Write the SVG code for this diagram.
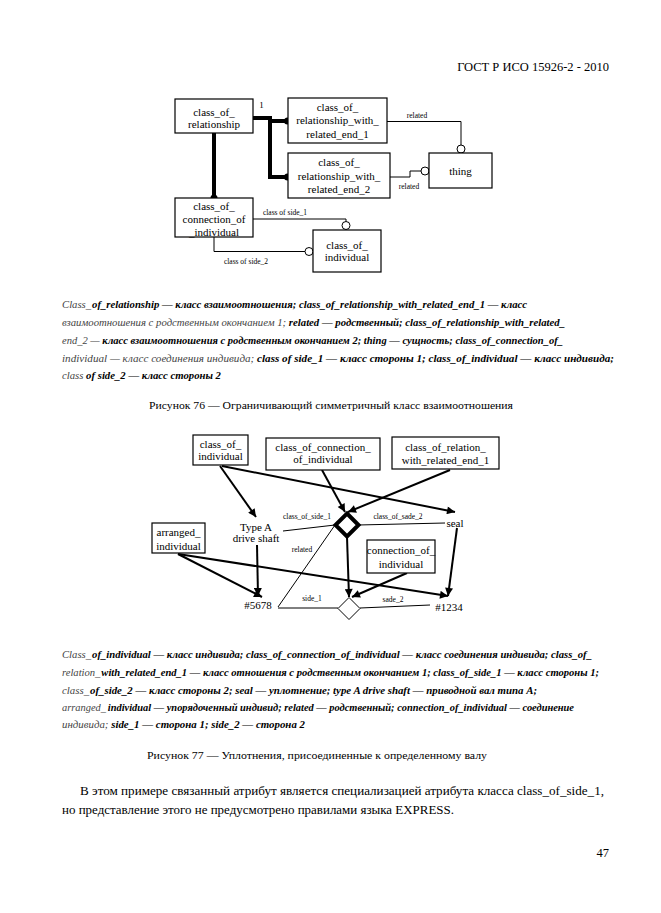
<svg xmlns="http://www.w3.org/2000/svg" width="661" height="913" viewBox="0 0 661 913">
<style>
text{font-family:"Liberation Serif","Times New Roman",serif;fill:#000}
.bx{fill:#fff;stroke:#000;stroke-width:1.2}
.t{font-size:11px;text-anchor:middle}
.lb{font-size:7.5px;text-anchor:middle}
.thin{fill:none;stroke:#000;stroke-width:1}
.thick{fill:none;stroke:#000;stroke-width:4}
.arr{fill:none;stroke:#000;stroke-width:2;marker-end:url(#ah)}
.oc{fill:#fff;stroke:#000;stroke-width:1}
.cap{font-size:11px}
.i{font-style:italic;fill:#444}
.b{font-style:italic;font-weight:bold}
</style>
<defs>
<marker id="ah" viewBox="0 0 10 10" refX="10" refY="5" markerWidth="9" markerHeight="8" markerUnits="userSpaceOnUse" orient="auto"><path d="M0,0 L10,5 L0,10 z" fill="#000"/></marker>
</defs>
<rect width="661" height="913" fill="#fff"/>
<text x="609" y="71" font-size="12.5" text-anchor="end">ГОСТ Р ИСО 15926-2 - 2010</text>

<!-- Figure 76 -->
<g id="connectors76">
<path class="thick" d="M253,118 H270 V177 H287 M270,121 H287"/>
<path class="thick" d="M214,133 V198"/>
<circle cx="287.5" cy="121" r="3.5"/>
<circle cx="287.5" cy="177" r="3.5"/>
<circle cx="214" cy="198" r="3.5"/>
<path class="thin" d="M387,121.5 H461 V145"/>
<circle class="oc" cx="461" cy="149" r="4"/>
<path class="thin" d="M390,177 H410 V171 H421"/>
<circle class="oc" cx="425" cy="171" r="4"/>
<path class="thin" d="M253,219 H346 V221.5"/>
<circle class="oc" cx="346" cy="225.5" r="4"/>
<path class="thin" d="M214,237 V251.5 H305"/>
<circle class="oc" cx="309" cy="251.5" r="4"/>
<text class="lb" x="417" y="118">related</text>
<text class="lb" x="409" y="189">related</text>
<text class="lb" x="285" y="215">class of side_1</text>
<text class="lb" x="246" y="264">class of side_2</text>
<text x="261.5" y="108" font-size="9" text-anchor="middle">1</text>
</g>
<g id="n_class_of_relationship">
<rect class="bx" x="175" y="99" width="78" height="34"/>
<text class="t" x="214" y="116">class_of_</text>
<text class="t" x="214" y="128">relationship</text>
</g>
<g id="n_rel_end_1">
<rect class="bx" x="288" y="98" width="99" height="45"/>
<text class="t" x="337.5" y="110.5">class_of_</text>
<text class="t" x="337.5" y="124">relationship_with_</text>
<text class="t" x="337.5" y="138">related_end_1</text>
</g>
<g id="n_rel_end_2">
<rect class="bx" x="288" y="153" width="102" height="45"/>
<text class="t" x="339" y="166">class_of_</text>
<text class="t" x="339" y="180">relationship_with_</text>
<text class="t" x="339" y="193">related_end_2</text>
</g>
<g id="n_thing">
<rect class="bx" x="429" y="153" width="63" height="35"/>
<text class="t" x="460.5" y="175">thing</text>
</g>
<g id="n_class_of_connection_of_individual">
<rect class="bx" x="175" y="198" width="78" height="39"/>
<text class="t" x="214" y="210">class_of_</text>
<text class="t" x="214" y="223">connection_of</text>
<text class="t" x="214" y="236">_individual</text>
</g>
<g id="n_class_of_individual">
<rect class="bx" x="313" y="230" width="68" height="42"/>
<text class="t" x="347" y="248.5">class_of_</text>
<text class="t" x="347" y="260.5">individual</text>
</g>

<g id="legend76" class="cap">
<text x="62" y="308" textLength="465" lengthAdjust="spacingAndGlyphs"><tspan class="i">Class_</tspan><tspan class="b" dx="1">of_relationship — класс взаимоотношения; class_of_relationship_with_related_end_1 — класс</tspan></text>
<text x="62" y="326" textLength="503" lengthAdjust="spacingAndGlyphs"><tspan class="i">взаимоотношения с родственным окончанием 1; </tspan><tspan class="b">related — родственный; class_of_relationship_with_related_</tspan></text>
<text x="62" y="344" textLength="501" lengthAdjust="spacingAndGlyphs"><tspan class="i">end_2 — </tspan><tspan class="b">класс взаимоотношения с родственным окончанием 2; thing — сущность; class_of_connection_of_</tspan></text>
<text x="62" y="362" textLength="552" lengthAdjust="spacingAndGlyphs"><tspan class="i">individual — класс соединения индивида; </tspan><tspan class="b">class of side_1 — класс стороны 1; class_of_individual — класс индивида;</tspan></text>
<text x="62" y="379" textLength="159" lengthAdjust="spacingAndGlyphs"><tspan class="i">class </tspan><tspan class="b">of side_2 — класс стороны 2</tspan></text>
</g>
<text x="331" y="409" font-size="10.5" text-anchor="middle" textLength="364" lengthAdjust="spacingAndGlyphs">Рисунок 76 — Ограничивающий симметричный класс взаимоотношения</text>

<!-- Figure 77 -->
<g id="connectors77">
<line class="arr" x1="220" y1="466" x2="256" y2="517"/>
<line class="arr" x1="222" y1="466" x2="455" y2="512"/>
<line class="arr" x1="322" y1="470" x2="345" y2="512"/>
<line class="arr" x1="450" y1="470" x2="348" y2="512"/>
<line class="arr" x1="347" y1="537" x2="349" y2="597"/>
<line class="arr" x1="407" y1="573" x2="352" y2="597"/>
<line class="arr" x1="178" y1="554" x2="262" y2="597"/>
<line class="arr" x1="178" y1="554" x2="448" y2="596"/>
<line class="arr" x1="257" y1="545" x2="258" y2="596"/>
<line class="arr" x1="457" y1="528" x2="448" y2="596"/>
<path class="thin" d="M283,531 L335,525"/>
<path class="thin" d="M358,525 L445,523"/>
<path class="thin" d="M335,525 L278,607"/>
<path class="thin" d="M278,608 H338"/>
<path class="thin" d="M360,608 L430,605"/>
<text class="lb" x="307" y="519">class_of_side_1</text>
<text class="lb" x="398" y="519">class_of_sade_2</text>
<text class="lb" x="302" y="552">related</text>
<text class="lb" x="312" y="601">side_1</text>
<text class="lb" x="393" y="602">sade_2</text>
</g>
<g id="d_thick">
<path d="M347,513.5 L358.5,525 L347,536.5 L335.5,525 Z" fill="#fff" stroke="#000" stroke-width="4" stroke-linejoin="miter"/>
</g>
<g id="d_thin">
<path d="M349,597.5 L360,608.5 L349,619.5 L338,608.5 Z" fill="#fff" stroke="#000" stroke-width="1"/>
</g>
<g id="m_class_of_individual">
<rect class="bx" x="193" y="435" width="55" height="30"/>
<text class="t" x="220.5" y="448">class_of_</text>
<text class="t" x="220.5" y="460">individual</text>
</g>
<g id="m_class_of_connection_of_individual">
<rect class="bx" x="266" y="438" width="114" height="32"/>
<text class="t" x="323" y="451">class_of_connection_</text>
<text class="t" x="323" y="463">of_individual</text>
</g>
<g id="m_class_of_relation">
<rect class="bx" x="392" y="437" width="107" height="32"/>
<text class="t" x="445.5" y="450.5">class_of_relation_</text>
<text class="t" x="445.5" y="464">with_related_end_1</text>
</g>
<g id="m_arranged_individual">
<rect class="bx" x="152" y="523" width="53" height="30"/>
<text class="t" x="178.5" y="535.5">arranged_</text>
<text class="t" x="178.5" y="549.5">individual</text>
</g>
<g id="m_connection_of_individual">
<rect class="bx" x="367" y="540" width="68" height="33"/>
<text class="t" x="401" y="553.5">connection_of_</text>
<text class="t" x="401" y="567.5">individual</text>
</g>
<g id="m_typeA">
<text class="t" x="256" y="530.5">Type A</text>
<text class="t" x="256" y="542">drive shaft</text>
</g>
<g id="m_seal"><text class="t" x="455" y="526.5">seal</text></g>
<g id="m_5678"><text class="t" x="258" y="609">#5678</text></g>
<g id="m_1234"><text class="t" x="449" y="610.5">#1234</text></g>

<g id="legend77" class="cap">
<text x="62" y="658" textLength="530" lengthAdjust="spacingAndGlyphs"><tspan class="i">Class_</tspan><tspan class="b" dx="1">of_individual — класс индивида; class_of_connection_of_individual — класс соединения индивида; class_of_</tspan></text>
<text x="62" y="676" textLength="537" lengthAdjust="spacingAndGlyphs"><tspan class="i">relation_</tspan><tspan class="b" dx="1">with_related_end_1 — класс отношения с родственным окончанием 1; class_of_side_1 — класс стороны 1;</tspan></text>
<text x="62" y="694" textLength="475" lengthAdjust="spacingAndGlyphs"><tspan class="i">class_</tspan><tspan class="b" dx="1">of_side_2 — класс стороны 2; seal — уплотнение; type A drive shaft — приводной вал типа A;</tspan></text>
<text x="62" y="711" textLength="512" lengthAdjust="spacingAndGlyphs"><tspan class="i">arranged_</tspan><tspan class="b" dx="2">individual — упорядоченный индивид; related — родственный; connection_of_individual — соединение</tspan></text>
<text x="62" y="728" textLength="243" lengthAdjust="spacingAndGlyphs"><tspan class="i">индивида; </tspan><tspan class="b">side_1 — сторона 1; side_2 — сторона 2</tspan></text>
</g>
<text x="317" y="759" font-size="10.5" text-anchor="middle" textLength="340" lengthAdjust="spacingAndGlyphs">Рисунок 77 — Уплотнения, присоединенные к определенному валу</text>

<text x="80" y="795" font-size="12.5" textLength="524" lengthAdjust="spacingAndGlyphs">В этом примере связанный атрибут является специализацией атрибута класса class_of_side_1,</text>
<text x="62" y="814" font-size="12.5" textLength="392" lengthAdjust="spacingAndGlyphs">но представление этого не предусмотрено правилами языка EXPRESS.</text>
<text x="609" y="857" font-size="12.5" text-anchor="end">47</text>
</svg>
